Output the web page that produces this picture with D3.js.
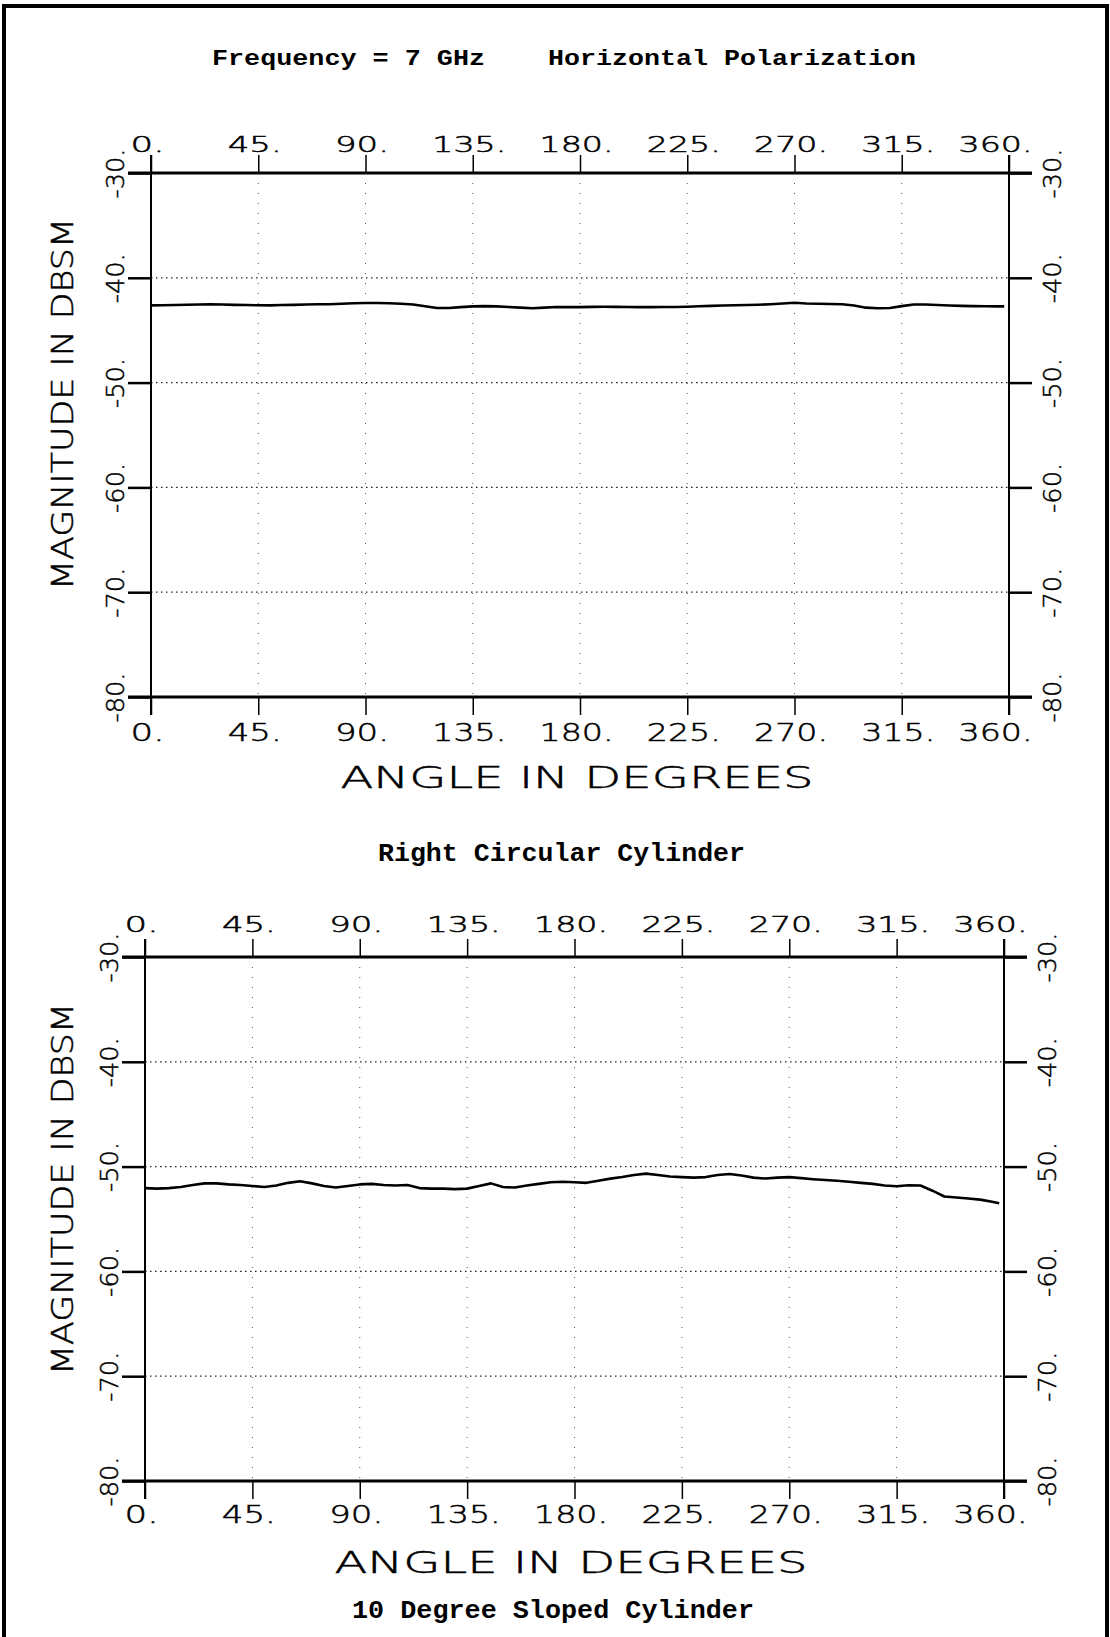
<!DOCTYPE html>
<html>
<head>
<meta charset="utf-8">
<script src="https://cdn.jsdelivr.net/npm/d3@7"></script>
<style>
  body { margin: 0; background: #fff; }
  svg { display: block; }
</style>
</head>
<body>
<div id="chart"></div>
<script>
var angles = [0, 5, 10, 15, 20, 25, 30, 35, 40, 45, 50, 55, 60, 65, 70, 75, 80, 85, 90, 95,
  100, 105, 110, 115, 120, 125, 130, 135, 140, 145, 150, 155, 160, 165, 170, 175, 180, 185, 190, 195,
  200, 205, 210, 215, 220, 225, 230, 235, 240, 245, 250, 255, 260, 265, 270, 275, 280, 285, 290, 295,
  300, 305, 310, 315, 320, 325, 330, 335, 340, 345, 350, 355, 358]

// Right circular cylinder (dBsm)
var rccValues = [-42.63, -42.62, -42.60, -42.57, -42.55, -42.54, -42.55, -42.58, -42.60, -42.62,
  -42.63, -42.60, -42.58, -42.55, -42.53, -42.52, -42.48, -42.43, -42.40, -42.40,
  -42.43, -42.48, -42.55, -42.72, -42.88, -42.88, -42.80, -42.73, -42.70, -42.73,
  -42.78, -42.85, -42.90, -42.85, -42.78, -42.80, -42.80, -42.77, -42.76, -42.77,
  -42.78, -42.80, -42.80, -42.78, -42.78, -42.76, -42.72, -42.68, -42.65, -42.62,
  -42.60, -42.57, -42.52, -42.45, -42.38, -42.45, -42.48, -42.50, -42.52, -42.65,
  -42.85, -42.90, -42.88, -42.70, -42.55, -42.55, -42.60, -42.65, -42.68, -42.70,
  -42.72, -42.73, -42.73]

// 10 degree sloped cylinder (dBsm)
var slopedValues = [-52.05, -52.10, -52.05, -51.95, -51.75, -51.60, -51.60, -51.70, -51.75, -51.85,
  -51.95, -51.80, -51.55, -51.40, -51.60, -51.85, -52.00, -51.85, -51.70, -51.65,
  -51.75, -51.80, -51.75, -52.05, -52.10, -52.10, -52.15, -52.10, -51.85, -51.60,
  -51.95, -52.00, -51.80, -51.65, -51.50, -51.45, -51.50, -51.55, -51.35, -51.15,
  -51.00, -50.80, -50.67, -50.80, -50.95, -51.00, -51.05, -51.00, -50.80, -50.70,
  -50.85, -51.05, -51.14, -51.05, -51.00, -51.10, -51.20, -51.28, -51.35, -51.45,
  -51.55, -51.65, -51.80, -51.87, -51.78, -51.80, -52.30, -52.85, -52.95, -53.05,
  -53.15, -53.35, -53.50]

var xTicks = [0, 45, 90, 135, 180, 225, 270, 315, 360]
var yTicks = [-30, -40, -50, -60, -70, -80]
var xGrid = [45, 90, 135, 180, 225, 270, 315]
var yGrid = [-40, -50, -60, -70]

var plotFont = "'DejaVu Sans', sans-serif"
var typeFont = "'Liberation Mono', 'Courier New', monospace"

var svg = d3.select("#chart")
  .append("svg")
  .attr("width", 1110)
  .attr("height", 1637)

// page frame
svg.append("path")
  .attr("d", "M4,1637 V6 H1107 V1637")
  .attr("fill", "none")
  .attr("stroke", "#000")
  .attr("stroke-width", 4)

// heading
svg.append("text")
  .attr("x", 212).attr("y", 65)
  .attr("textLength", 273).attr("lengthAdjust", "spacingAndGlyphs")
  .style("font-family", typeFont).style("font-size", "22px").style("font-weight", "bold")
  .text("Frequency = 7 GHz")
svg.append("text")
  .attr("x", 548).attr("y", 65)
  .attr("textLength", 368).attr("lengthAdjust", "spacingAndGlyphs")
  .style("font-family", typeFont).style("font-size", "22px").style("font-weight", "bold")
  .text("Horizontal Polarization")

var panels = [
  {values: rccValues, left: 151, right: 1009, top: 173, bottom: 697,
   topLabelY: 152, topFont: 21, botLabelY: 741, botFont: 25,
   titleX: 577, titleY: 788, magY: 404,
   caption: "Right Circular Cylinder", capX: 378, capY: 861, capLen: 367},
  {values: slopedValues, left: 145, right: 1004, top: 957, bottom: 1481,
   topLabelY: 932, topFont: 21, botLabelY: 1523, botFont: 25,
   titleX: 571, titleY: 1573, magY: 1189,
   caption: "10 Degree Sloped Cylinder", capX: 352, capY: 1618, capLen: 402}
]

panels.forEach(drawPanel)

// plotter labels are wide: about 20px per character
function xLabelLen(d) {
  var s = d + "."
  return 20 * s.length - 6
}

function drawPanel(p) {
  var x = d3.scaleLinear().domain([0, 360]).range([p.left, p.right])
  var y = d3.scaleLinear().domain([-80, -30]).range([p.bottom, p.top])
  var g = svg.append("g")

  // dotted grid
  g.append("g").selectAll("line")
    .data(yGrid).enter().append("line")
    .attr("x1", p.left).attr("x2", p.right)
    .attr("y1", d => y(d)).attr("y2", d => y(d))
    .attr("stroke", "#222").attr("stroke-width", 1.3)
    .attr("stroke-dasharray", "1.5,3.5")
  g.append("g").selectAll("line")
    .data(xGrid).enter().append("line")
    .attr("x1", d => x(d)).attr("x2", d => x(d))
    .attr("y1", p.top).attr("y2", p.bottom)
    .attr("stroke", "#555").attr("stroke-width", 1)
    .attr("stroke-dasharray", "1,9")

  // frame
  g.append("line").attr("x1", p.left - 23).attr("x2", p.right + 23)
    .attr("y1", p.top).attr("y2", p.top)
    .attr("stroke", "#000").attr("stroke-width", 3)
  g.append("line").attr("x1", p.left - 23).attr("x2", p.right + 23)
    .attr("y1", p.bottom).attr("y2", p.bottom)
    .attr("stroke", "#000").attr("stroke-width", 3)
  g.append("line").attr("x1", p.left).attr("x2", p.left)
    .attr("y1", p.top - 18).attr("y2", p.bottom + 18)
    .attr("stroke", "#000").attr("stroke-width", 2)
  g.append("line").attr("x1", p.right).attr("x2", p.right)
    .attr("y1", p.top - 18).attr("y2", p.bottom + 18)
    .attr("stroke", "#000").attr("stroke-width", 2)

  // x axes, top and bottom
  var axTop = g.append("g")
    .attr("transform", "translate(0," + p.top + ")")
    .call(d3.axisTop(x).tickValues(xTicks).tickSize(18).tickFormat(d => d + "."))
  var axBot = g.append("g")
    .attr("transform", "translate(0," + p.bottom + ")")
    .call(d3.axisBottom(x).tickValues(xTicks).tickSize(18).tickFormat(d => d + "."))

  axTop.selectAll("text")
    .attr("y", p.topLabelY - p.top).attr("dy", 0)
    .attr("x", d => d == 360 ? -14 : -4)
    .attr("textLength", xLabelLen).attr("lengthAdjust", "spacingAndGlyphs")
    .style("font-size", p.topFont + "px")
  axBot.selectAll("text")
    .attr("y", p.botLabelY - p.bottom).attr("dy", 0)
    .attr("x", d => d == 360 ? -14 : -4)
    .attr("textLength", xLabelLen).attr("lengthAdjust", "spacingAndGlyphs")
    .style("font-size", p.botFont + "px")

  // y axes, left and right
  var axLeft = g.append("g")
    .attr("transform", "translate(" + p.left + ",0)")
    .call(d3.axisLeft(y).tickValues(yTicks).tickSize(23).tickFormat(d => d + "."))
  var axRight = g.append("g")
    .attr("transform", "translate(" + p.right + ",0)")
    .call(d3.axisRight(y).tickValues(yTicks).tickSize(23).tickFormat(d => d + "."))

  axLeft.selectAll("text")
    .attr("x", null).attr("dy", 0)
    .attr("text-anchor", "middle")
    .attr("transform", "translate(-27,0) rotate(-90)")
    .attr("textLength", 50).attr("lengthAdjust", "spacingAndGlyphs")
    .style("font-size", "25px")
  axRight.selectAll("text")
    .attr("x", null).attr("dy", 0)
    .attr("text-anchor", "middle")
    .attr("transform", "translate(52,0) rotate(-90)")
    .attr("textLength", 50).attr("lengthAdjust", "spacingAndGlyphs")
    .style("font-size", "25px")

  ;[axTop, axBot, axLeft, axRight].forEach(function(a) {
    a.select(".domain").remove()
    a.selectAll("text")
      .style("font-family", plotFont).style("font-weight", 200)
      .attr("fill", "#000").attr("stroke", "#000").attr("stroke-width", 0.5)
  })
  axTop.selectAll(".tick line").attr("stroke-width", 1.5)
  axBot.selectAll(".tick line").attr("stroke-width", 1.5)
  axLeft.selectAll(".tick line").attr("stroke-width", 2.5)
  axRight.selectAll(".tick line").attr("stroke-width", 2.5)

  // data curve
  var line = d3.line()
    .x((d, i) => x(angles[i]))
    .y(d => y(d))
  g.append("path")
    .datum(p.values)
    .attr("d", line)
    .attr("fill", "none")
    .attr("stroke", "#000")
    .attr("stroke-width", 2.6)
    .attr("stroke-linejoin", "round")

  // axis titles
  g.append("text")
    .attr("x", p.titleX).attr("y", p.titleY)
    .attr("text-anchor", "middle")
    .attr("textLength", 473).attr("lengthAdjust", "spacingAndGlyphs")
    .attr("stroke", "#000").attr("stroke-width", 0.5)
    .style("font-family", plotFont).style("font-weight", 200).style("font-size", "31px")
    .text("ANGLE IN DEGREES")
  g.append("text")
    .attr("transform", "translate(73," + p.magY + ") rotate(-90)")
    .attr("text-anchor", "middle")
    .attr("textLength", 372).attr("lengthAdjust", "spacingAndGlyphs")
    .attr("stroke", "#000").attr("stroke-width", 0.5)
    .style("font-family", plotFont).style("font-weight", 200).style("font-size", "31px")
    .text("MAGNITUDE IN DBSM")

  // caption under the plot
  g.append("text")
    .attr("x", p.capX).attr("y", p.capY)
    .attr("textLength", p.capLen).attr("lengthAdjust", "spacingAndGlyphs")
    .style("font-family", typeFont).style("font-size", "26px").style("font-weight", "bold")
    .text(p.caption)
}
</script>
</body>
</html>
